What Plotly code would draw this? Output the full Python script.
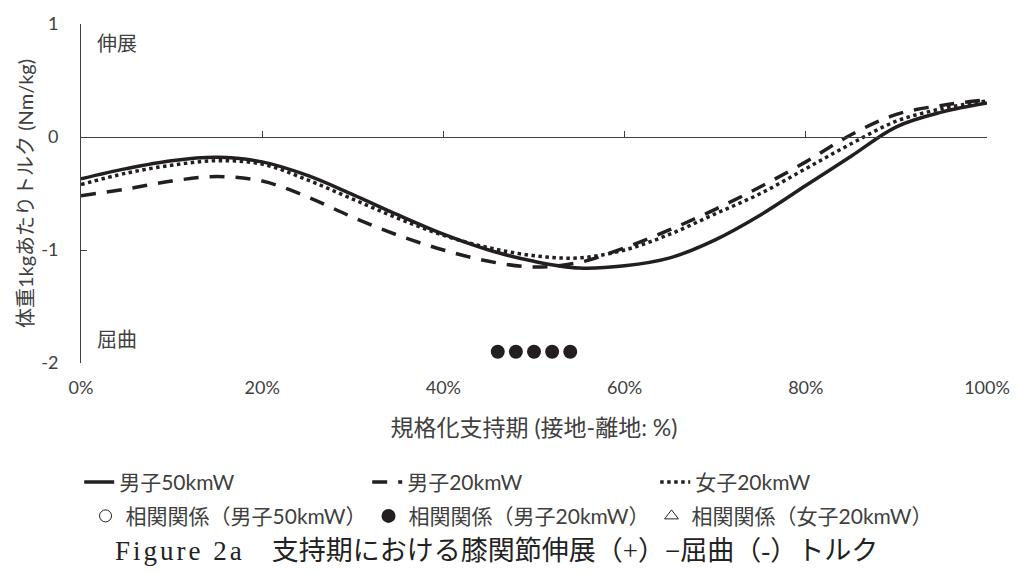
import plotly.graph_objects as go

# ---- data ----
phase = [0, 5, 10, 15, 20, 25, 30, 35, 40, 45, 50, 55, 60, 65, 70, 75, 80, 85, 90, 95, 100]
male50 = [-0.37, -0.28, -0.21, -0.18, -0.22, -0.34, -0.51, -0.69, -0.86, -1.00, -1.10,
          -1.16, -1.14, -1.07, -0.91, -0.69, -0.43, -0.17, 0.09, 0.22, 0.30]
male20 = [-0.52, -0.46, -0.39, -0.35, -0.39, -0.53, -0.71, -0.87, -1.00, -1.10, -1.15,
          -1.11, -0.98, -0.82, -0.64, -0.44, -0.22, 0.02, 0.20, 0.28, 0.33]
female20 = [-0.42, -0.32, -0.25, -0.21, -0.24, -0.38, -0.55, -0.72, -0.87, -0.98, -1.05,
            -1.07, -1.00, -0.86, -0.68, -0.50, -0.28, -0.06, 0.14, 0.25, 0.32]
sig_phase_male20 = [46, 48, 50, 52, 54]
sig_level_male20 = [-1.9, -1.9, -1.9, -1.9, -1.9]

x_tick_vals = [0, 20, 40, 60, 80, 100]
x_tick_text = ["0%", "20%", "40%", "60%", "80%", "100%"]
y_tick_vals = [-2, -1, 0, 1]
y_tick_text = ["-2", "-1", "0", "1"]

LINE = "#231f20"
TEXT = "#404040"
FONT = "Lato, 'Noto Sans CJK JP', sans-serif"

fig = go.Figure()
fig.add_trace(go.Scatter(x=phase, y=male50, mode="lines", name="男子50kmW",
                         line=dict(color=LINE, width=3.5, shape="spline"), legend="legend"))
fig.add_trace(go.Scatter(x=phase, y=male20, mode="lines", name="男子20kmW",
                         line=dict(color=LINE, width=3.5, dash="15px,11px", shape="spline"), legend="legend"))
fig.add_trace(go.Scatter(x=phase, y=female20, mode="lines", name="女子20kmW",
                         line=dict(color=LINE, width=3.5, dash="3.5px,3.5px", shape="spline"), legend="legend"))
fig.add_trace(go.Scatter(x=[None], y=[None], mode="markers", name="相関関係（男子50kmW）",
                         marker=dict(symbol="circle-open", size=12, color=LINE, line=dict(width=1)),
                         legend="legend2", xaxis="x2"))
fig.add_trace(go.Scatter(x=sig_phase_male20, y=sig_level_male20, mode="markers",
                         name="相関関係（男子20kmW）",
                         marker=dict(symbol="circle", size=14, color=LINE), legend="legend2"))
fig.add_trace(go.Scatter(x=[None], y=[None], mode="markers", name="相関関係（女子20kmW）",
                         marker=dict(symbol="triangle-up-open", size=12, color=LINE, line=dict(width=1)),
                         legend="legend2", xaxis="x2"))

fig.update_layout(
    width=1022, height=573,
    margin=dict(l=81, r=29, t=17, b=210),
    paper_bgcolor="white", plot_bgcolor="white",
    font=dict(family=FONT, size=18, color=TEXT),
    xaxis=dict(range=[0, 100], tickmode="array", tickvals=x_tick_vals, ticktext=x_tick_text,
               showgrid=False, zeroline=False, showline=False, ticks="", ticklabelstandoff=12,
               tickfont=dict(size=18, color=TEXT),
               title=dict(text="規格化支持期 (接地-離地: %)", font=dict(size=23, color=TEXT), standoff=22)),
    xaxis2=dict(range=[0, 100], tickmode="array", tickvals=x_tick_vals, overlaying="x",
                anchor="free", position=2/3,
                showticklabels=False, showgrid=False, zeroline=False, showline=True,
                linecolor="#404040", linewidth=1, ticks="inside", ticklen=6, tickcolor="#404040"),
    yaxis=dict(range=[-2, 1], tickmode="array", tickvals=y_tick_vals, ticktext=y_tick_text,
               showgrid=False, zeroline=False,
               showline=True, linecolor="#404040", linewidth=1, ticks="inside", ticklen=6,
               tickcolor="#404040", ticklabelstandoff=18, tickfont=dict(size=18, color=TEXT),
               title=dict(text="体重1kgあたりトルク (Nm/kg)", font=dict(size=20, color=TEXT), standoff=2)),
    legend=dict(orientation="h", x=-0.002, xanchor="left", y=-0.352, yanchor="middle",
                entrywidth=243, entrywidthmode="pixels", font=dict(size=21, color=TEXT),
                bgcolor="rgba(0,0,0,0)", itemclick=False, tracegroupgap=0),
    legend2=dict(orientation="h", x=0.005, xanchor="left", y=-0.452, yanchor="middle",
                 entrywidth=238, entrywidthmode="pixels", font=dict(size=21, color=TEXT),
                 bgcolor="rgba(0,0,0,0)", itemclick=False),
    showlegend=True,
)

fig.add_annotation(x=1.5, y=0.83, xref="x", yref="y", text="伸展", showarrow=False,
                   xanchor="left", yanchor="middle", font=dict(size=20, color=TEXT))
fig.add_annotation(x=1.5, y=-1.79, xref="x", yref="y", text="屈曲", showarrow=False,
                   xanchor="left", yanchor="middle", font=dict(size=20, color=TEXT))
fig.add_annotation(x=(113 - 81) / 912, y=-0.556, xref="paper", yref="paper",
                   text="<span style='font-family:Liberation Serif;letter-spacing:3px'>Figure 2a</span>　支持期における膝関節伸展（+）−屈曲（-）トルク",
                   showarrow=False, xanchor="left", yanchor="middle",
                   font=dict(size=27, color="#222222", family="'Liberation Serif', 'Noto Sans CJK JP', serif"))

fig.write_html("out.html")
